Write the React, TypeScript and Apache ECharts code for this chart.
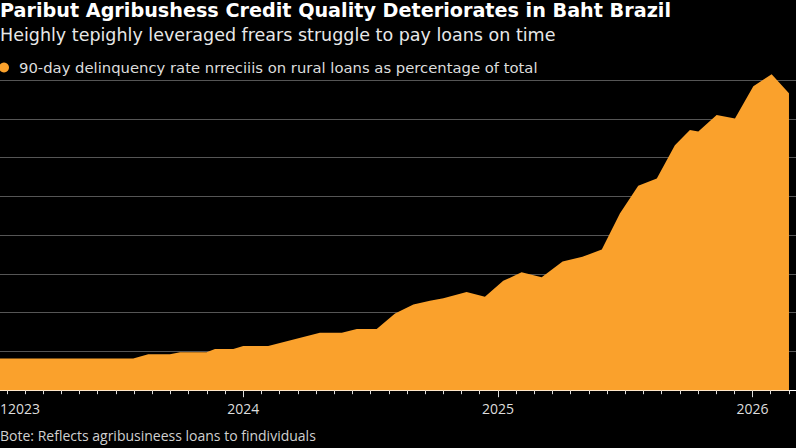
import React, { useEffect, useRef } from 'react';
import * as echarts from 'echarts';

// Decimal-year dates of each observation
const dates = [
  2023.0, 2023.568, 2023.627, 2023.712, 2023.752, 2023.856, 2023.889, 2023.961,
  2024.0, 2024.098, 2024.301, 2024.387, 2024.446, 2024.524, 2024.596, 2024.668,
  2024.733, 2024.786, 2024.877, 2024.949, 2025.021, 2025.093, 2025.172, 2025.254,
  2025.332, 2025.408, 2025.479, 2025.551, 2025.624, 2025.695, 2025.754, 2025.787,
  2025.859, 2025.931, 2026.003, 2026.075, 2026.143,
];
// 90-day delinquency rate, % of total
const rates = [
  0.82, 0.82, 0.93, 0.93, 0.98, 0.98, 1.06, 1.06,
  1.14, 1.14, 1.48, 1.48, 1.58, 1.58, 1.98, 2.21,
  2.31, 2.37, 2.53, 2.41, 2.82, 3.04, 2.91, 3.32,
  3.44, 3.63, 4.56, 5.27, 5.46, 6.32, 6.71, 6.67,
  7.10, 7.01, 7.84, 8.15, 7.66,
];
const yearTicks = [2024, 2025, 2026];
const firstYearLabel = '12023';
const ticksPerYear = 14;

const titleText = 'Paribut Agribushess Credit Quality Deteriorates in Baht Brazil';
const subtitleText = 'Heighly tepighly leveraged frears struggle to pay loans on time';
const legendText = '90-day delinquency rate nrreciiis on rural loans as percentage of total';
const noteText = 'Bote: Reflects agribusineess loans to findividuals';

const FONT = '"DejaVu Sans", "Open Sans", sans-serif';
const FONT2 = '"Open Sans", "Noto Sans", sans-serif';
const ORANGE = '#FAA12C';

export default function App() {
  const ref = useRef<HTMLDivElement>(null);
  useEffect(() => {
    document.body.style.margin = '0';
    document.body.style.background = '#000';
    if (!ref.current) return;
    const chart = echarts.init(ref.current, undefined, { renderer: 'svg' });
    const xMin = 2023.0448;
    const xMax = 2026.1706;
    const minorTicks: number[] = [];
    for (let k = 1; 2023 + k / ticksPerYear <= xMax; k++) minorTicks.push(2023 + k / ticksPerYear);
    chart.setOption({
      animation: false,
      backgroundColor: '#000',
      textStyle: { fontFamily: FONT },
      title: {
        text: titleText,
        subtext: subtitleText,
        left: 0,
        top: 1,
        padding: 0,
        itemGap: 6,
        textStyle: { fontSize: 19.2, fontWeight: 'bold', color: '#ffffff', fontFamily: FONT },
        subtextStyle: { fontSize: 17.5, color: '#e8e8e8', fontFamily: FONT },
      },
      legend: {
        left: -1,
        top: 60,
        padding: 0,
        icon: 'circle',
        itemWidth: 10,
        itemHeight: 10,
        textStyle: { color: '#dddddd', fontSize: 14.8, fontFamily: FONT, padding: [0, 0, 0, 5] },
        data: [legendText],
      },
      grid: { left: 0, right: 0, top: 80, bottom: 57.8, containLabel: false },
      xAxis: [
        {
          type: 'value',
          min: xMin,
          max: xMax,
          position: 'bottom',
          axisLine: { show: true, onZero: false, lineStyle: { color: '#ffffff', width: 1 } },
          axisTick: { show: true, length: 4, customValues: minorTicks, lineStyle: { color: '#dddddd' } },
          axisLabel: { show: false },
          splitLine: { show: false },
        },
        {
          type: 'value',
          min: xMin,
          max: xMax,
          position: 'bottom',
          axisLine: { show: false, onZero: false },
          axisTick: { show: true, length: 7, customValues: yearTicks, lineStyle: { color: '#dddddd' } },
          axisLabel: {
            color: '#dddddd',
            fontSize: 14,
            fontFamily: FONT2,
            margin: 11,
            customValues: yearTicks,
            formatter: (v: number) => String(Math.round(v)),
          },
          splitLine: { show: false },
        },
      ],
      yAxis: {
        type: 'value',
        min: 0,
        max: 8,
        interval: 1,
        axisLine: { show: false },
        axisTick: { show: false },
        axisLabel: { show: false },
        splitLine: { show: true, lineStyle: { color: '#555555', width: 1 } },
      },
      series: [
        {
          name: legendText,
          type: 'line',
          xAxisIndex: 0,
          clip: false,
          data: dates.map((d, i) => [d, rates[i]]),
          symbol: 'none',
          lineStyle: { width: 0, color: ORANGE },
          itemStyle: { color: ORANGE },
          areaStyle: { color: ORANGE, opacity: 1 },
        },
      ],
      graphic: [
        {
          type: 'text',
          left: 0,
          top: 401,
          style: { text: firstYearLabel, fill: '#dddddd', font: `14px ${FONT2}` },
        },
        {
          type: 'text',
          left: 0,
          top: 428,
          style: { text: noteText, fill: '#d0d0d0', font: `14px ${FONT2}` },
        },
      ],
    });
    return () => chart.dispose();
  }, []);
  return (
    <div
      ref={ref}
      style={{ position: 'absolute', left: 0, top: 0, width: 796, height: 448, background: '#000' }}
    />
  );
}
